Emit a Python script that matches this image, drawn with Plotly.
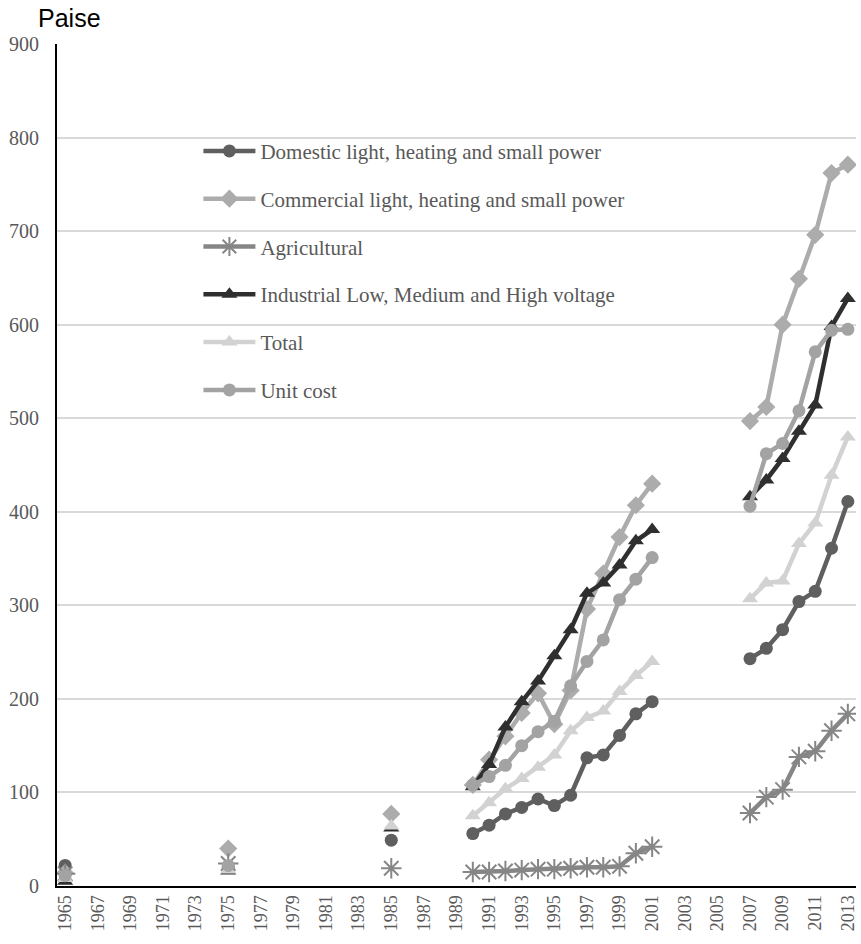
import plotly.graph_objects as go

years = list(range(1965, 2014))
data_years = [1965, 1975, 1985] + list(range(1990, 2002)) + list(range(2007, 2014))

domestic = [22, 20, 49,
            56, 65, 77, 84, 93, 86, 97, 137, 140, 161, 184, 197,
            243, 254, 274, 304, 315, 361, 411]
commercial = [14, 40, 77,
              108, 135, 160, 185, 206, 173, 209, 296, 334, 373, 407, 430,
              497, 512, 600, 649, 696, 762, 771]
agricultural = [13, 24, 19,
                15, 15, 16, 17, 18, 18, 19, 20, 20, 21, 35, 42,
                78, 95, 103, 138, 144, 166, 184]
industrial = [5, 16, 62,
              106, 130, 170, 197, 219, 246, 274, 313, 324, 343, 369, 381,
              416, 434, 457, 486, 514, 598, 628]
total = [8, 17, 64,
         75, 89, 104, 115, 127, 140, 166, 180, 187, 208, 225, 240,
         307, 324, 326, 366, 388, 439, 480]
unit_cost = [11, 22, None,
             108, 117, 129, 150, 165, 176, 214, 240, 263, 306, 328, 351,
             406, 462, 473, 508, 571, 594, 595]

names = ["Domestic light, heating and small power",
         "Commercial light, heating and small power",
         "Agricultural",
         "Industrial Low, Medium and High voltage",
         "Total",
         "Unit cost"]
tick_years = list(range(1965, 2014, 2))


def full(vals):
    m = dict(zip(data_years, vals))
    return [m.get(y) for y in years]


styles = [
    dict(color="#5f5f5f", symbol="circle", size=13),
    dict(color="#acacac", symbol="diamond", size=14),
    dict(color="#868686", symbol="asterisk-open", size=17),
    dict(color="#2f2f2f", symbol="triangle-up", size=14),
    dict(color="#d2d2d2", symbol="triangle-up", size=14),
    dict(color="#a3a3a3", symbol="circle", size=13),
]
series = [domestic, commercial, agricultural, industrial, total, unit_cost]

fig = go.Figure()
for i, (nm, vals, st) in enumerate(zip(names, series, styles)):
    marker = dict(symbol=st["symbol"], size=st["size"], color=st["color"])
    if st["symbol"] == "asterisk-open":
        marker["line"] = dict(color=st["color"], width=2)
    fig.add_trace(go.Scatter(
        x=years, y=full(vals), name=nm, mode="lines+markers",
        line=dict(color=st["color"], width=4.5),
        marker=marker, connectgaps=False, legendgroup=str(i),
    ))

fig.update_layout(
    width=861, height=944,
    margin=dict(l=57, r=3, t=44, b=58),
    plot_bgcolor="white", paper_bgcolor="white",
    showlegend=True,
    legend=dict(x=0.177, y=0.897, xanchor="left", yanchor="top",
                bgcolor="rgba(0,0,0,0)",
                font=dict(family="Liberation Serif", size=21, color="#595959"),
                itemwidth=52, tracegroupgap=17.5),
    xaxis=dict(range=[1964.5, 2013.5], tickmode="array", tickvals=tick_years,
               ticktext=[str(y) for y in tick_years], tickangle=-90,
               showgrid=False, showline=True, linecolor="black", linewidth=2,
               ticks="", zeroline=False,
               tickfont=dict(family="Liberation Serif", size=18, color="#595959")),
    yaxis=dict(range=[0, 900], dtick=100, showgrid=True, gridcolor="#d9d9d9",
               gridwidth=1.5, showline=True, linecolor="black", linewidth=2,
               ticks="", zeroline=False, ticklabelstandoff=12,
               tickfont=dict(family="Liberation Serif", size=20, color="#595959")),
    annotations=[dict(text="Paise", xref="paper", yref="paper", x=0, y=1,
                      xanchor="left", yanchor="bottom", xshift=-21, yshift=10,
                      showarrow=False,
                      font=dict(family="Liberation Sans", size=25, color="black"))],
)

fig.write_html("out.html", config={"displayModeBar": False},
               post_script="document.body.style.margin='0';document.body.style.overflow='hidden';")
